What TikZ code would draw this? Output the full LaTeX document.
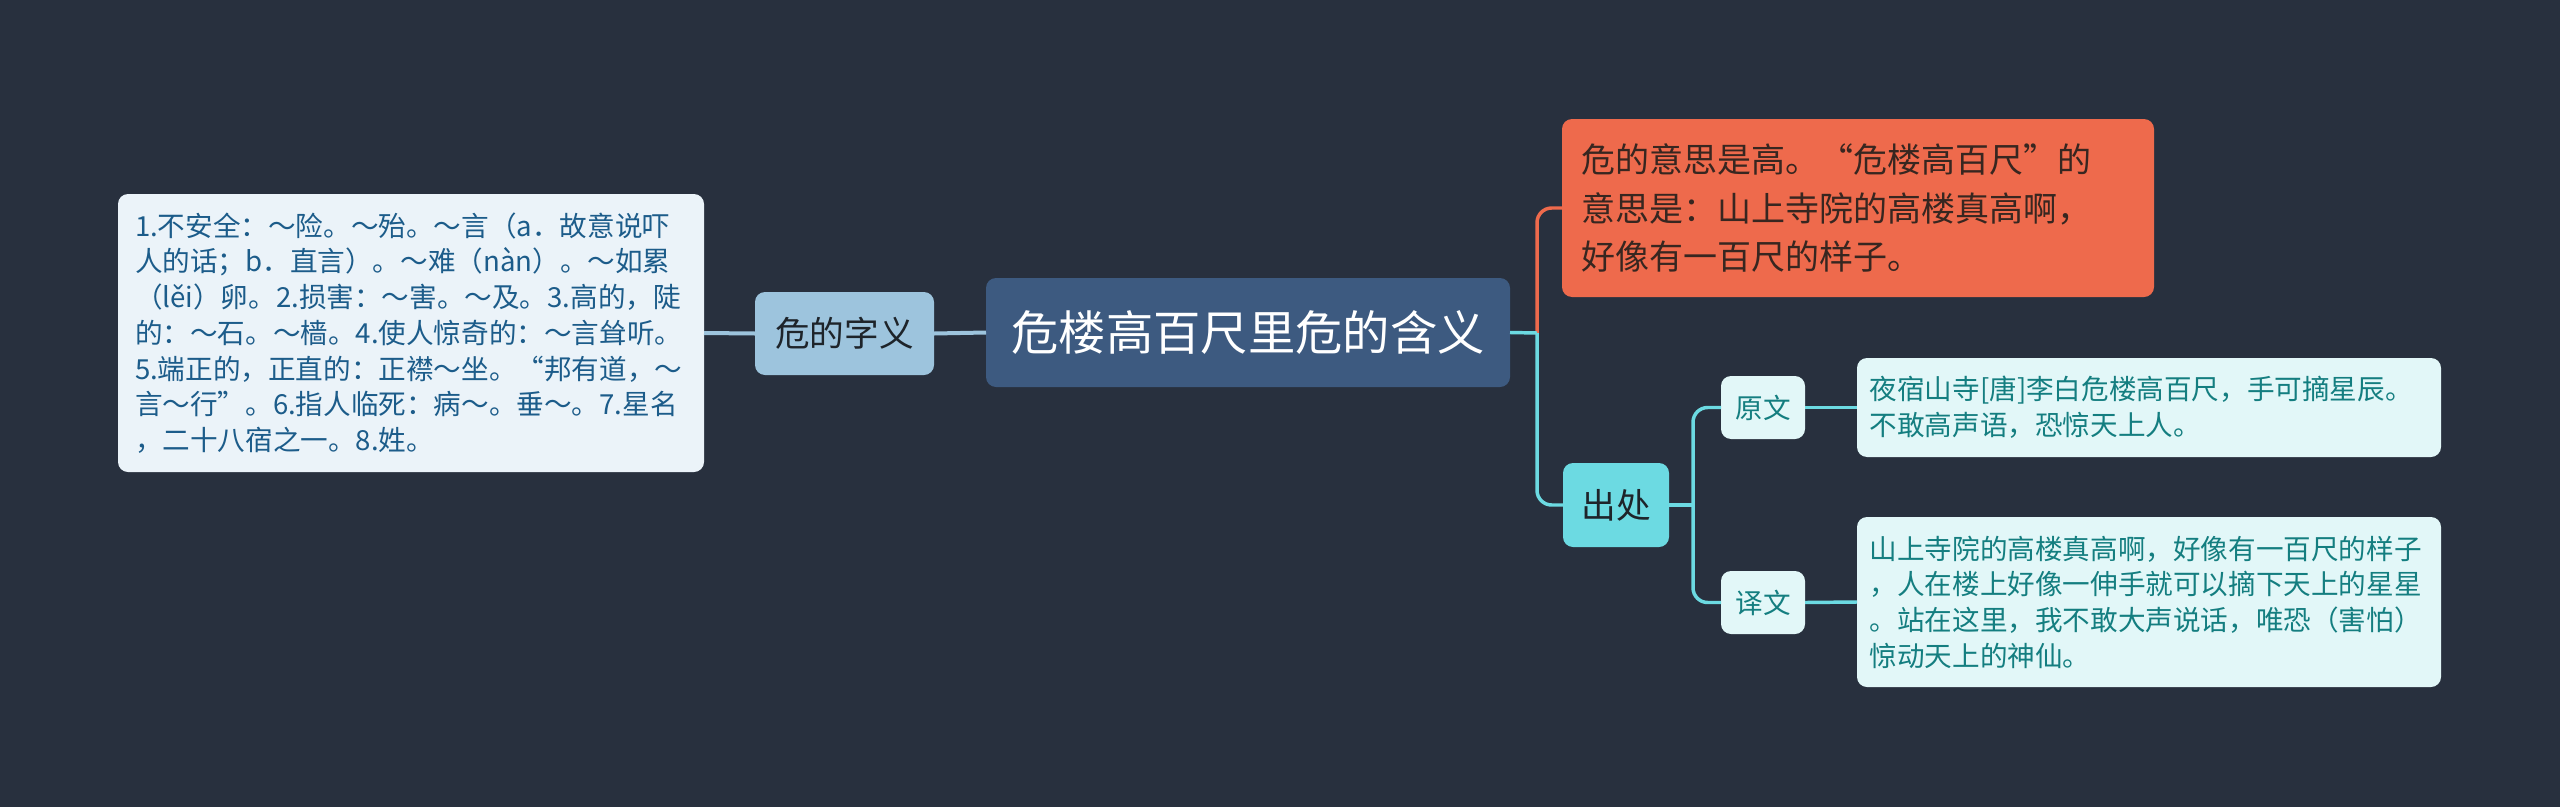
\documentclass[tikz,border=0pt]{standalone}
\usepackage{fontspec}
\setmainfont{Noto Sans CJK SC}
\definecolor{bg}{RGB}{40,48,62}
\definecolor{rootfill}{RGB}{61,90,128}
\definecolor{zifill}{RGB}{157,196,221}
\definecolor{deffill}{RGB}{235,243,249}
\definecolor{deftext}{RGB}{28,92,138}
\definecolor{orfill}{RGB}{238,106,76}
\definecolor{ortext}{RGB}{55,38,32}
\definecolor{cyfill}{RGB}{108,218,226}
\definecolor{lightfill}{RGB}{226,247,248}
\definecolor{tealtext}{RGB}{20,126,128}
\definecolor{darktext}{RGB}{30,36,42}
\begin{document}
\begin{tikzpicture}[x=0.75pt,y=-0.75pt,
  box/.style={rounded corners=7.5pt, inner sep=0pt, outer sep=0pt},
  para/.style={box, align=left, inner ysep=0pt},
  small/.style={font=\fontsize{20.7}{26.8}\selectfont},
  lbline/.style={draw=zifill, line width=3pt},
  orline/.style={draw=orfill, line width=2.6pt},
  cyline/.style={draw=cyfill, line width=2.6pt},
]
\fill[bg] (0,0) rectangle (2560,807);
\useasboundingbox (0,0) rectangle (2560,807);

% nodes
\node[para, small, fill=deffill, text=deftext, minimum width=439.5pt, minimum height=208.5pt,
      text width=414pt, inner xsep=12.75pt] (def) at (411,333)
  {1.不安全：～险。～殆。～言（a．故意说吓\\
   人的话；b．直言）。～难（nàn）。～如累\\
   （lěi）卵。2.损害：～害。～及。3.高的，陡\\
   的：～石。～樯。4.使人惊奇的：～言耸听。\\
   5.端正的，正直的：正襟～坐。“邦有道，～\\
   言～行”。6.指人临死：病～。垂～。7.星名\\
   ，二十八宿之一。8.姓。};

\node[box, fill=zifill, text=darktext, minimum width=134.25pt, minimum height=62.25pt,
      font=\fontsize{26}{30}\selectfont] (zi) at (844.5,333.5) {危的字义};

\node[box, fill=rootfill, text=white, minimum width=393pt, minimum height=81.75pt,
      font=\fontsize{35.5}{40}\selectfont] (root) at (1248,332.5) {危楼高百尺里危的含义};

\node[para, fill=orfill, text=ortext, minimum width=444pt, minimum height=133.5pt,
      text width=415.5pt, inner xsep=14.25pt, font=\fontsize{25.5}{36.4}\selectfont] (mean) at (1858,208)
  {危的意思是高。“危楼高百尺”的\\
   意思是：山上寺院的高楼真高啊，\\
   好像有一百尺的样子。};

\node[box, fill=cyfill, text=darktext, minimum width=79.5pt, minimum height=63pt,
      font=\fontsize{26}{30}\selectfont] (cc) at (1616,505) {出处};

\node[box, fill=lightfill, text=tealtext, minimum width=63pt, minimum height=47.25pt,
      font=\fontsize{20.7}{24}\selectfont] (yw) at (1763,407.5) {原文};

\node[box, fill=lightfill, text=tealtext, minimum width=63pt, minimum height=47.25pt,
      font=\fontsize{20.7}{24}\selectfont] (yiw) at (1763,602.5) {译文};

\node[para, small, fill=lightfill, text=tealtext, minimum width=438pt, minimum height=74.25pt,
      text width=419pt, inner xsep=9.5pt] (ywt) at (2149,407.5)
  {夜宿山寺[唐]李白危楼高百尺，手可摘星辰。\\
   不敢高声语，恐惊天上人。};

\node[para, small, fill=lightfill, text=tealtext, minimum width=438pt, minimum height=127.5pt,
      text width=419pt, inner xsep=9.5pt] (yiwt) at (2149,602)
  {山上寺院的高楼真高啊，好像有一百尺的样子\\
   ，人在楼上好像一伸手就可以摘下天上的星星\\
   。站在这里，我不敢大声说话，唯恐（害怕）\\
   惊动天上的神仙。};

% connectors
\begin{scope}[on background layer/.style={}]
\end{scope}
\coordinate (j1) at (1537,333);
\coordinate (j2) at (1693,505);
\path[lbline] (def.east) -- (zi.west);
\path[lbline] (zi.east) -- (root.west);
\path[orline, rounded corners=11pt] (j1) |- (mean.west);
\path[cyline, rounded corners=11pt] (j1) |- (cc.west);
\path[cyline] (root.east) -- (j1);
\path[cyline] (cc.east) -- (j2);
\path[cyline, rounded corners=11pt] (j2) |- (yw.west);
\path[cyline, rounded corners=11pt] (j2) |- (yiw.west);
\path[cyline] (yw.east) -- (ywt.west);
\path[cyline] (yiw.east) -- (yiwt.west);
\end{tikzpicture}
\end{document}
